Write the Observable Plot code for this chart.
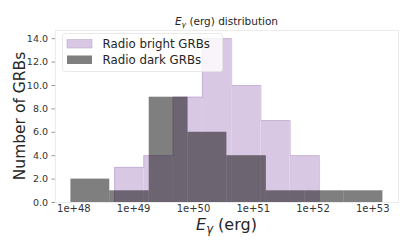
<!DOCTYPE html>
<html>
<head>
<meta charset="utf-8">
<script src="https://cdn.jsdelivr.net/npm/d3@7"></script>
<script src="https://cdn.jsdelivr.net/npm/@observablehq/plot@0.6"></script>
<style>
  html, body { margin: 0; padding: 0; background: #fff; }
  #chart { width: 407px; height: 251px; position: relative; }
  svg { font-family: "DejaVu Sans", sans-serif; }
</style>
</head>
<body>
<div id="chart"></div>
<script>
// ---- data ----
// bin edges are log10(E_gamma / erg)
const seriesNames = ["Radio bright GRBs", "Radio dark GRBs"];
const brightEdges = [48.68, 49.17, 49.66, 50.15, 50.64, 51.13, 51.62, 52.11];
const brightCounts = [3, 4, 9, 14, 10, 7, 4];
const darkEdges = [47.95, 48.60, 49.26, 49.91, 50.56, 51.22, 51.87, 52.52, 53.17];
const darkCounts = [2, 1, 9, 6, 4, 1, 1, 1];
const xTickExponents = [48, 49, 50, 51, 52, 53];
const xTickLabels = ["1e+48", "1e+49", "1e+50", "1e+51", "1e+52", "1e+53"];
const yTicks = [0, 2, 4, 6, 8, 10, 12, 14];
const yTickLabels = ["0.0", "2.0", "4.0", "6.0", "8.0", "10.0", "12.0", "14.0"];

const brightColor = "#d9c8e3";
const brightEdge = "#bfaad0";
const darkColor = "#000";

const toBins = (edges, counts, series) =>
  counts.map((c, i) => ({series, x1: 10 ** edges[i], x2: 10 ** edges[i + 1], count: c}));
// outline of a "stepfilled" histogram
const toOutline = (edges, counts) => {
  const pts = [{x: 10 ** edges[0], y: 0}];
  counts.forEach((c, i) => {
    pts.push({x: 10 ** edges[i], y: c});
    pts.push({x: 10 ** edges[i + 1], y: c});
  });
  pts.push({x: 10 ** edges[edges.length - 1], y: 0});
  return pts;
};

const bright = toBins(brightEdges, brightCounts, seriesNames[0]);
const dark = toBins(darkEdges, darkCounts, seriesNames[1]);
const brightOutline = toOutline(brightEdges, brightCounts);
const xTicks = xTickExponents.map(e => 10 ** e);
const xLabelOf = d => xTickLabels[xTickExponents.indexOf(Math.round(Math.log10(d)))];
const yLabelOf = d => yTickLabels[yTicks.indexOf(d)];

const W = 407, H = 251;
const plot = Plot.plot({
  width: W,
  height: H,
  marginLeft: 55,
  marginRight: 9,
  marginTop: 30,
  marginBottom: 49,
  style: {fontFamily: "DejaVu Sans", background: "white", overflow: "visible"},
  x: {type: "log", domain: [10 ** 47.692, 10 ** 53.431]},
  y: {domain: [0, 14.7]},
  marks: [
    Plot.frame({stroke: "#ebebeb"}),
    Plot.rectY(bright, {x1: "x1", x2: "x2", y: "count", fill: brightColor, inset: 0}),
    Plot.line(brightOutline, {x: "x", y: "y", stroke: brightEdge, strokeWidth: 0.7}),
    Plot.rectY(dark, {x1: "x1", x2: "x2", y: "count", fill: darkColor, fillOpacity: 0.5, inset: 0}),
    Plot.axisX({ticks: xTicks, tickFormat: xLabelOf, tickSize: 0, tickPadding: 2.5,
      fontSize: 10, fill: "#333", label: null}),
    Plot.axisY({ticks: yTicks, tickFormat: yLabelOf, tickSize: 3.5, tickPadding: 4,
      fontSize: 9.5, fill: "#333", stroke: "#999", label: null}),
    Plot.ruleY([0], {stroke: "#ebebeb"})
  ]
});
document.getElementById("chart").appendChild(plot);

const svg = d3.select(plot);
const cx = 226.5;

// title
const title = svg.append("text")
  .attr("x", cx).attr("y", 24.5).attr("text-anchor", "middle")
  .attr("font-size", 10.5).attr("fill", "#262626");
title.append("tspan").attr("font-style", "italic").text("E");
title.append("tspan").attr("font-style", "italic").attr("font-size", 7.5).attr("dy", 2).text("γ");
title.append("tspan").attr("dy", -2).text(" (erg) distribution");

// x label
const xl = svg.append("text")
  .attr("x", cx).attr("y", 229.5).attr("text-anchor", "middle")
  .attr("font-size", 16).attr("fill", "#262626");
xl.append("tspan").attr("font-style", "italic").text("E");
xl.append("tspan").attr("font-style", "italic").attr("font-size", 11.5).attr("dy", 3.5).text("γ");
xl.append("tspan").attr("dy", -3.5).text(" (erg)");

// y label
svg.append("text")
  .attr("transform", "translate(24.5,116) rotate(-90)")
  .attr("text-anchor", "middle")
  .attr("font-size", 15.5).attr("fill", "#262626")
  .text("Number of GRBs");

// legend
const lg = svg.append("g").attr("text-anchor", "start");
lg.append("rect").attr("x", 62.5).attr("y", 33.5).attr("width", 160).attr("height", 38)
  .attr("rx", 2.5).attr("fill", "white").attr("fill-opacity", 0.8).attr("stroke", "#e3e3e3").attr("stroke-width", 0.8);
lg.append("rect").attr("x", 67).attr("y", 39.5).attr("width", 25).attr("height", 8.5)
  .attr("fill", brightColor).attr("stroke", brightEdge).attr("stroke-width", 0.6);
lg.append("rect").attr("x", 67).attr("y", 55.5).attr("width", 25).attr("height", 8.5)
  .attr("fill", darkColor).attr("fill-opacity", 0.5);
lg.append("text").attr("x", 102.5).attr("y", 48).attr("text-anchor", "start").attr("font-size", 11.8).attr("fill", "#262626").text(seriesNames[0]);
lg.append("text").attr("x", 102.5).attr("y", 64).attr("text-anchor", "start").attr("font-size", 11.8).attr("fill", "#262626").text(seriesNames[1]);
</script>
</body>
</html>
